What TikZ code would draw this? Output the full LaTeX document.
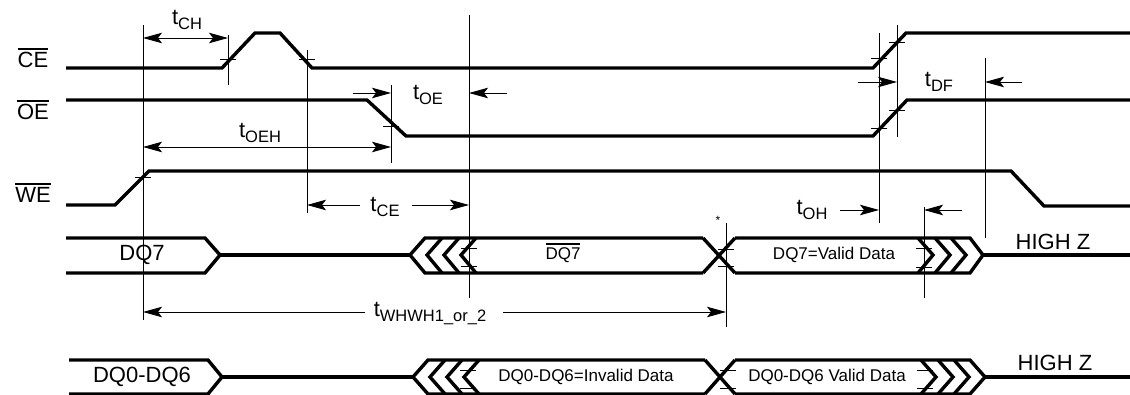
\documentclass[tikz,border=0pt]{standalone}
\usepackage{fontspec}
\setmainfont{Liberation Sans}
\usetikzlibrary{arrows.meta}
\newcommand\ovl[1]{\vbox{\hrule height 1.6pt\kern 3pt\hbox{#1}}}
\newcommand\tlab[1]{t\raisebox{-5pt}{\fontsize{16.5}{16.5}\selectfont #1}}
\newcommand\tk[2]{\draw[thinl] (#1-8,#2) -- (#1+8,#2);}
\begin{document}
\begin{tikzpicture}[x=1pt,y=-1pt,
  sig/.style={line width=3.4pt, line join=miter},
  thinl/.style={line width=0.9pt},
  arr/.style={line width=0.9pt,-{Stealth[length=19pt,width=10.5pt,inset=4pt]}},
  dbl/.style={line width=0.9pt,{Stealth[length=19pt,width=10.5pt,inset=4pt]}-{Stealth[length=19pt,width=10.5pt,inset=4pt]}},
  big/.style={font=\fontsize{22}{24}\selectfont, inner sep=0pt},
  small/.style={font=\fontsize{17}{19}\selectfont, inner sep=0pt},
]
\useasboundingbox (0,0) rectangle (1130,395);
\fill[white] (0,0) rectangle (1130,395);

% signal labels
\node[big] (lce) at (33,58) {\ovl{CE}};
\node[big] (loe) at (33,110) {\ovl{OE}};
\node[big] (lwe) at (33,193) {\ovl{WE}};

% CE
\draw[sig] (66,68) -- (222,68) -- (255,33) -- (280,33) -- (312,68) -- (873,68) -- (906,33) -- (1130,33);
% OE
\draw[sig] (66,100) -- (367,100) -- (406,136) -- (873,136) -- (907,100) -- (1130,100);
% WE
\draw[sig] (66,205) -- (115,205) -- (149,171) -- (1011,171) -- (1044,206) -- (1130,206);

% DQ7 bus
\draw[sig] (66,238) -- (205,238) -- (220,255) -- (205,273) -- (66,273);
\draw[sig] (220,255) -- (410,255);
\draw[sig] (703,238) -- (425,238) -- (410,255) -- (425,273) -- (703,273);
\foreach \t in {427,444,461} \draw[sig] (\t+15,238) -- (\t,255) -- (\t+15,273);
\draw[sig] (703,238) -- (735,273);
\draw[sig] (703,273) -- (735,238);
\draw[sig] (735,238) -- (970,238) -- (983,255) -- (970,273) -- (735,273);
\foreach \t in {933,950,966} \draw[sig] (\t-15,238) -- (\t,255) -- (\t-15,273);
\draw[sig] (983,255) -- (1130,255);

% DQ0-DQ6 bus
\draw[sig] (69,360) -- (208,360) -- (222,377) -- (208,394) -- (69,394);
\draw[sig] (222,377) -- (413,377);
\draw[sig] (705,360) -- (428,360) -- (413,377) -- (428,394) -- (705,394);
\foreach \t in {430,447,464} \draw[sig] (\t+15,360) -- (\t,377) -- (\t+15,394);
\draw[sig] (705,360) -- (735,394);
\draw[sig] (705,394) -- (735,360);
\draw[sig] (735,360) -- (970,360) -- (985,377) -- (970,394) -- (735,394);
\foreach \t in {936,953,969} \draw[sig] (\t-15,360) -- (\t,377) -- (\t-15,394);
\draw[sig] (985,377) -- (1130,377);

% vertical reference lines
\draw[thinl] (143,25) -- (143,320);
\draw[thinl] (228,35) -- (228,85);
\draw[thinl] (307,50) -- (307,213);
\draw[thinl] (391,85) -- (391,163);
\draw[thinl] (469,15) -- (469,298);
\draw[thinl] (726,223) -- (726,327);
\draw[thinl] (879,33) -- (879,223);
\draw[thinl] (897,25) -- (897,137);
\draw[thinl] (985,58) -- (985,238);
\draw[thinl] (924,207) -- (924,298);

% ticks
\tk{228}{59}
\tk{307}{59}
\tk{391}{126}
\tk{143}{177}
\tk{879}{58}
\tk{897}{42}
\tk{879}{128}
\tk{897}{110}
\tk{469}{248}
\tk{469}{266}
\tk{726}{249}
\tk{726}{266}
\tk{924}{248}
\tk{924}{267}
\tk{468}{370}
\tk{468}{388}
\tk{728}{370}
\tk{728}{388}
\tk{925}{370}
\tk{925}{388}

% timing arrows
\draw[dbl] (143,38) -- (228,38);
\node[big] (tch) at (187,20) {\tlab{CH}};

\draw[arr] (353,93) -- (391,93);
\draw[arr] (507,93) -- (469,93);
\node[big] (toe) at (428,95) {\tlab{OE}};

\draw[dbl] (143,147) -- (391,147);
\node[big] (toeh) at (260,133) {\tlab{OEH}};

\draw[arr] (360,205) -- (307,205);
\draw[arr] (412,205) -- (469,205);
\node[big] (tce) at (385,207) {\tlab{CE}};

\draw[arr] (858,82) -- (897,82);
\draw[arr] (1022,82) -- (985,82);
\node[big] (tdf) at (939,82) {\tlab{DF}};

\draw[arr] (840,210) -- (879,210);
\draw[arr] (962,210) -- (924,210);
\node[big] (toh) at (812,210) {\tlab{OH}};

\draw[arr] (365,312) -- (143,312);
\draw[arr] (503,312) -- (726,312);
\node[big] (twh) at (430,314) {\tlab{WHWH1\_or\_2}};

\node[font=\fontsize{12}{12}\selectfont, inner sep=0pt] (star) at (718,220) {*};

% bus texts
\node[big] (dq7) at (142,255) {DQ7};
\node[big] (dq06) at (142,377) {DQ0-DQ6};
\node[small] (dq7b) at (563,253) {\ovl{DQ7}};
\node[small] (dq7v) at (834,255) {DQ7=Valid Data};
\node[small] (dqinv) at (586,377) {DQ0-DQ6=Invalid Data};
\node[small] (dqval) at (827,377) {DQ0-DQ6 Valid Data};
\node[big] (hz1) at (1053,242) {HIGH Z};
\node[big] (hz2) at (1055,363) {HIGH Z};
\end{tikzpicture}
\end{document}
